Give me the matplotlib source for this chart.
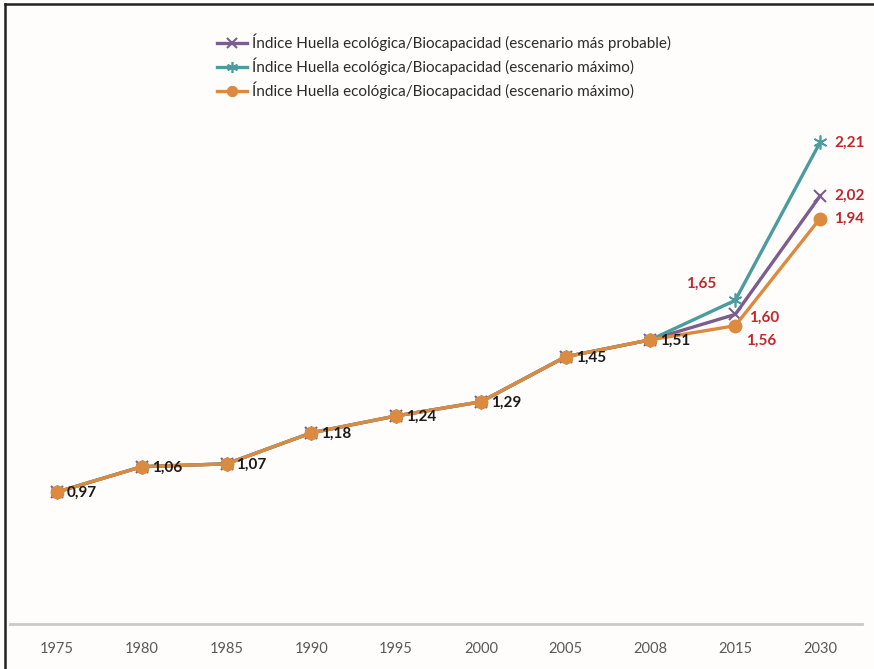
import matplotlib.pyplot as plt
from matplotlib.lines import Line2D

# datos
years = ['1975', '1980', '1985', '1990', '1995', '2000', '2005', '2008', '2015', '2030']
base = [0.97, 1.06, 1.07, 1.18, 1.24, 1.29, 1.45, 1.51]
probable = base + [1.60, 2.02]
maximo = base + [1.65, 2.21]
naranja = base + [1.56, 1.94]

label = 'Índice Huella ecológica/Biocapacidad'
names = [label + ' (escenario más probable)',
         label + ' (escenario máximo)',
         label + ' (escenario máximo)']

plt.rcParams['font.family'] = ['Lato', 'DejaVu Sans']

c_purple = '#7b5d8e'
c_teal = '#4a9c9e'
c_orange = '#dc8a3f'
c_red = '#c1272d'

fig = plt.figure(figsize=(8.74, 6.69), dpi=100)
fig.patch.set_facecolor('#fefdfb')
ax = fig.add_axes([10 / 874, 1 - 624 / 669, 852 / 874, (624 - 110) / 669])
ax.set_facecolor('none')

x = list(range(len(years)))
ax.plot(x, probable, color=c_purple, lw=2.4, marker='x', ms=9, mew=1.5, label=names[0])
ax.plot(x, maximo, color=c_teal, lw=2.4, marker=(6, 2, 0), ms=10, mew=1.2, label=names[1])
ax.plot(x, naranja, color=c_orange, lw=2.4, marker='o', ms=9, label=names[2], zorder=3)

ax.set_xlim(-0.554, 9.495)
ax.set_ylim(0.502, 2.325)
ax.set_xticks(x)
ax.set_xticklabels(years, fontsize=10.5, color='#595959')
ax.tick_params(axis='x', length=0, pad=13)
ax.set_yticks([])
for s in ['top', 'left', 'right']:
    ax.spines[s].set_visible(False)
ax.spines['bottom'].set_color('#c9c9c9')
ax.spines['bottom'].set_linewidth(2)

# etiquetas historicas
for i, v in enumerate(base):
    ax.annotate(f'{v:.2f}'.replace('.', ','), (i, v), xytext=(10, -1),
                textcoords='offset pixels', ha='left', va='center',
                fontsize=11, fontweight='bold', color='#1a1a1a')

# etiquetas de escenarios
red_labels = [
    (8, maximo[8], (-34, 17), 'center'),
    (8, probable[8], (14, -3), 'left'),
    (8, naranja[8], (11, -15), 'left'),
    (9, maximo[9], (14, 0), 'left'),
    (9, probable[9], (14, 0), 'left'),
    (9, naranja[9], (14, 0), 'left'),
]
for i, v, off, ha in red_labels:
    ax.annotate(f'{v:.2f}'.replace('.', ','), (i, v), xytext=off,
                textcoords='offset pixels', ha=ha, va='center',
                fontsize=11, fontweight='bold', color=c_red)

ax.legend(loc='upper left', bbox_to_anchor=(203 / 874, 1 - 20 / 669),
          bbox_transform=fig.transFigure, frameon=False, fontsize=11,
          handlelength=2.0, handletextpad=0.3, labelspacing=0.42,
          markerscale=0.8, labelcolor='#2b2b2b')

# marco
fig.add_artist(Line2D([5 / 874, 5 / 874], [0, 1 - 4 / 669], transform=fig.transFigure,
                      color='#222222', lw=1.8))
fig.add_artist(Line2D([5 / 874, 1], [1 - 4 / 669, 1 - 4 / 669], transform=fig.transFigure,
                      color='#222222', lw=1.8))

fig.savefig('out.png', dpi=100, facecolor=fig.get_facecolor())
